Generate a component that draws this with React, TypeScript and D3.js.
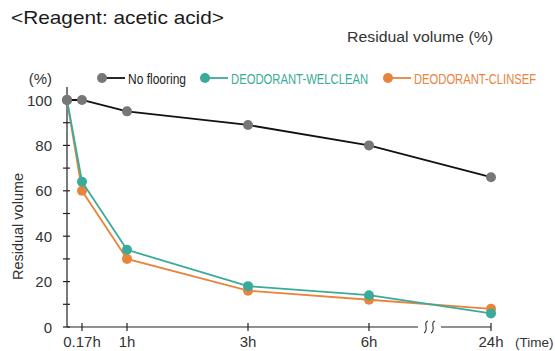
import React, { useLayoutEffect, useRef, useState } from "react";
import * as d3 from "d3";

const timeValues = [0, 0.17, 1, 3, 6, 24];
const timeTickValues = [0.17, 1, 3, 6, 24];
const timeTickLabels = ["0.17h", "1h", "3h", "6h", "24h"];
const yTickValues = [0, 10, 20, 30, 40, 50, 60, 70, 80, 90, 100];
const yLabelValues = [0, 20, 40, 60, 80, 100];

const noFlooring = [100, 100, 95, 89, 80, 66];
const welclean = [100, 64, 34, 18, 14, 6];
const clinsef = [100, 60, 30, 16, 12, 8];

const seriesNames = ["No flooring", "DEODORANT-WELCLEAN", "DEODORANT-CLINSEF"];

const W = 555;
const H = 351;
const X0 = 67;
const KNOT_PX = [0, 15, 60, 181, 302, 424];
const Y0 = 327;
const Y1 = 100;

const GRAY = "#777777";
const TEAL = "#3aab98";
const ORANGE = "#e8843c";
const TEXT = "#333333";
const FONT = "'Liberation Sans', Arial, Helvetica, sans-serif";

function NarrowText({ x, y, width, fill, size, children }: any) {
  const ref = useRef<SVGTextElement>(null);
  const [sx, setSx] = useState(0.8);
  useLayoutEffect(() => {
    if (ref.current) {
      const w = ref.current.getComputedTextLength();
      if (w > 0) setSx(width / w);
    }
  }, [width, children]);
  return (
    <g transform={`translate(${x},${y}) scale(${sx},1)`}>
      <text ref={ref} x={0} y={0} fontSize={size} fill={fill}>
        {children}
      </text>
    </g>
  );
}

export default function App() {
  const x = d3.scaleLinear().domain(timeValues).range(KNOT_PX.map((p) => X0 + p));
  const y = d3.scaleLinear().domain([0, 100]).range([Y0, Y1]);
  const line = d3
    .line<number>()
    .x((_, i) => x(timeValues[i]))
    .y((d) => y(d));

  const series = [
    { name: seriesNames[2], values: clinsef, line: ORANGE, dot: ORANGE },
    { name: seriesNames[1], values: welclean, line: TEAL, dot: TEAL },
    { name: seriesNames[0], values: noFlooring, line: "#111111", dot: GRAY },
  ];

  const xEnd = x(24);
  const breakC = (x(6) + x(24)) / 2;

  const legend = [
    { name: seriesNames[0], dotX: 102, color: GRAY, lineColor: "#111", textColor: "#222", textW: 58 },
    { name: seriesNames[1], dotX: 205, color: TEAL, lineColor: TEAL, textColor: TEAL, textW: 137 },
    { name: seriesNames[2], dotX: 388, color: ORANGE, lineColor: ORANGE, textColor: ORANGE, textW: 122 },
  ];

  return (
    <svg width={W} height={H} style={{ position: "absolute", left: 0, top: 0 }} fontFamily={FONT}>
      <rect width={W} height={H} fill="#fff" />
      <text x={11} y={24} fontSize={19} fill="#1a1a1a" textLength={213} lengthAdjust="spacingAndGlyphs">
        {"<Reagent: acetic acid>"}
      </text>
      <text x={347} y={42} fontSize={15.5} fill="#333" textLength={146} lengthAdjust="spacingAndGlyphs">
        Residual volume (%)
      </text>

      {/* legend */}
      <text x={52} y={84} fontSize={15} fill={TEXT} textAnchor="end">(%)</text>
      {legend.map((l) => (
        <g key={l.name}>
          <line x1={l.dotX} x2={l.dotX + 23} y1={78} y2={78} stroke={l.lineColor} strokeWidth={1.8} />
          <circle cx={l.dotX} cy={78} r={5} fill={l.color} />
          <NarrowText x={l.dotX + 26} y={83.5} width={l.textW} fill={l.textColor} size={14}>
            {l.name}
          </NarrowText>
        </g>
      ))}

      {/* y axis */}
      <line x1={X0} x2={X0} y1={87} y2={Y0} stroke="#222" strokeWidth={1.2} />
      {yTickValues.map((v) => (
        <line key={v} x1={X0 - 4} x2={X0 + 3} y1={y(v)} y2={y(v)} stroke="#222" strokeWidth={1.2} />
      ))}
      {yLabelValues.map((v) => (
        <text key={v} x={52} y={y(v) + 5.5} fontSize={15} fill={TEXT} textAnchor="end">
          {v}
        </text>
      ))}
      <text
        transform={`translate(23, ${(y(0) + y(100)) / 2 + 13}) rotate(-90)`}
        fontSize={14.5}
        fill={TEXT}
        textAnchor="middle"
      >
        Residual volume
      </text>

      {/* x axis with break */}
      <line x1={X0} x2={breakC - 12} y1={Y0} y2={Y0} stroke="#222" strokeWidth={1.2} />
      <line x1={breakC + 11} x2={xEnd} y1={Y0} y2={Y0} stroke="#222" strokeWidth={1.2} />
      {[-4, 3].map((dx) => (
        <path
          key={dx}
          d={`M${breakC + dx + 2},${Y0 - 6} C${breakC + dx - 4},${Y0 - 4} ${breakC + dx + 4},${Y0 + 2} ${breakC + dx - 2},${Y0 + 6}`}
          fill="none"
          stroke="#333"
          strokeWidth={1.1}
        />
      ))}
      {timeTickValues.map((v, i) => (
        <g key={v}>
          <line x1={x(v)} x2={x(v)} y1={Y0 - 4} y2={Y0 + 4} stroke="#222" strokeWidth={1.2} />
          <text x={x(v)} y={347} fontSize={15} fill={TEXT} textAnchor="middle">
            {timeTickLabels[i]}
          </text>
        </g>
      ))}
      <text x={515} y={347} fontSize={13.5} fill={TEXT}>
        (Time)
      </text>

      {/* series */}
      {series.map((s) => (
        <g key={s.name}>
          <path d={line(s.values) || ""} fill="none" stroke={s.line} strokeWidth={1.8} />
          {s.values.map((v, i) => (
            <circle key={i} cx={x(timeValues[i])} cy={y(v)} r={5} fill={s.dot} />
          ))}
        </g>
      ))}
    </svg>
  );
}
